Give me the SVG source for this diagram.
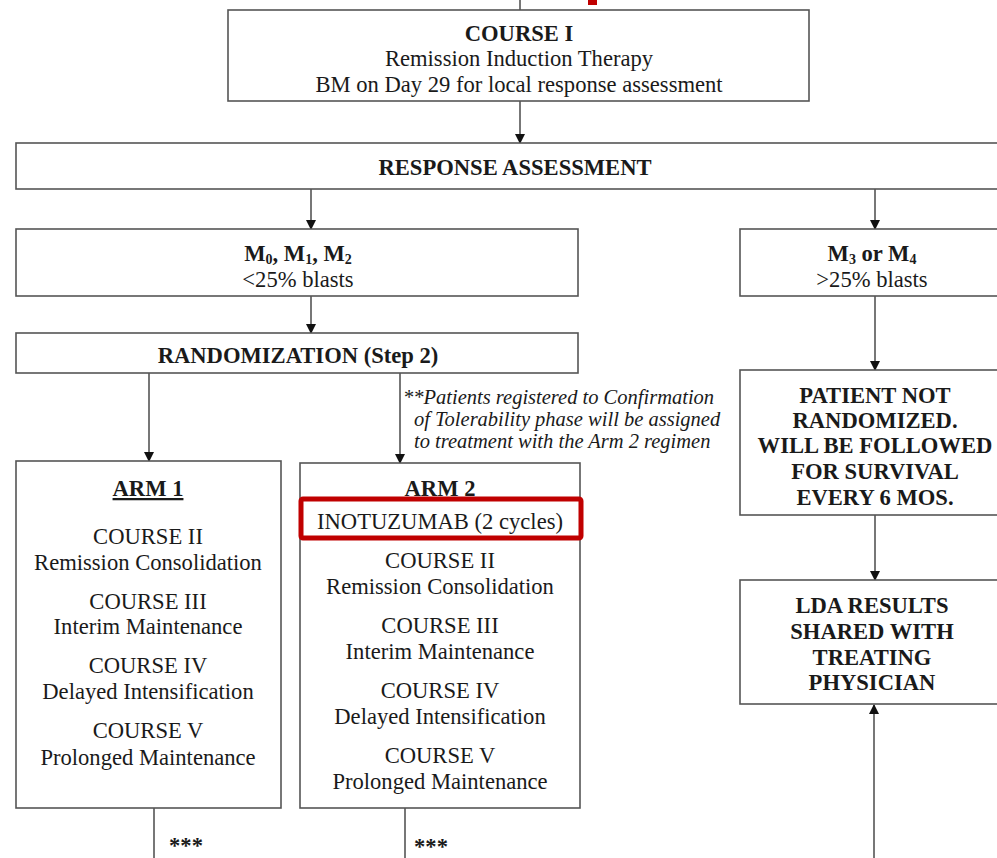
<svg xmlns="http://www.w3.org/2000/svg" width="997" height="858" viewBox="0 0 997 858">
<defs>
<marker id="ah" markerWidth="10" markerHeight="10" refX="9" refY="5" orient="auto" markerUnits="userSpaceOnUse" viewBox="0 0 10 10">
<path d="M0,0 L10,5 L0,10 z" fill="#111"/>
</marker>
<style>
.box{fill:#fff;stroke:#555;stroke-width:1.6}
.ln{stroke:#555;stroke-width:1.6;fill:none}
.t{font-family:"Liberation Serif","Times New Roman",serif;font-size:22.6px;fill:#1a1a1a;text-anchor:middle}
.b{font-weight:bold}
.note{font-family:"Liberation Serif","Times New Roman",serif;font-size:20.5px;font-style:italic;fill:#1a1a1a}
.sub{font-size:14px}
</style>
</defs>
<rect width="997" height="858" fill="#fff"/>
<rect x="588" y="0" width="9" height="5" fill="#c00000"/>
<g id="connectors">
<line class="ln" x1="520" y1="0" x2="520" y2="10"/>
<line class="ln" x1="520" y1="101" x2="520" y2="143" marker-end="url(#ah)"/>
<line class="ln" x1="311" y1="189" x2="311" y2="229" marker-end="url(#ah)"/>
<line class="ln" x1="875" y1="189" x2="875" y2="229" marker-end="url(#ah)"/>
<line class="ln" x1="311" y1="296" x2="311" y2="333" marker-end="url(#ah)"/>
<line class="ln" x1="149" y1="373" x2="149" y2="461" marker-end="url(#ah)"/>
<line class="ln" x1="400" y1="373" x2="400" y2="463" marker-end="url(#ah)"/>
<line class="ln" x1="875" y1="296" x2="875" y2="370" marker-end="url(#ah)"/>
<line class="ln" x1="875" y1="515" x2="875" y2="580" marker-end="url(#ah)"/>
<line class="ln" x1="874" y1="858" x2="874" y2="705" marker-end="url(#ah)"/>
<line class="ln" x1="154" y1="808" x2="154" y2="858"/>
<line class="ln" x1="405" y1="808" x2="405" y2="858"/>
</g>
<g id="course1">
<rect class="box" x="228" y="10" width="581" height="91"/>
<text class="t b" x="519" y="41" font-size="23">COURSE I</text>
<text class="t" x="519" y="66">Remission Induction Therapy</text>
<text class="t" x="519" y="92">BM on Day 29 for local response assessment</text>
</g>
<g id="response">
<rect class="box" x="16" y="143" width="990" height="46"/>
<text class="t b" x="515" y="175">RESPONSE ASSESSMENT</text>
</g>
<g id="m012">
<rect class="box" x="16" y="229" width="562" height="67"/>
<text class="t b" x="298" y="261">M<tspan class="sub" dy="3">0</tspan><tspan dy="-3">, M</tspan><tspan class="sub" dy="3">1</tspan><tspan dy="-3">, M</tspan><tspan class="sub" dy="3">2</tspan></text>
<text class="t" x="298" y="287">&lt;25% blasts</text>
</g>
<g id="m34">
<rect class="box" x="740" y="229" width="266" height="67"/>
<text class="t b" x="872" y="261">M<tspan class="sub" dy="3">3</tspan><tspan dy="-3"> or M</tspan><tspan class="sub" dy="3">4</tspan></text>
<text class="t" x="872" y="287">&gt;25% blasts</text>
</g>
<g id="randomization">
<rect class="box" x="16" y="333" width="562" height="40"/>
<text class="t b" x="298" y="363">RANDOMIZATION (Step 2)</text>
</g>
<g id="note">
<text class="note" x="403" y="404">**Patients registered to Confirmation</text>
<text class="note" x="414" y="426">of Tolerability phase will be assigned</text>
<text class="note" x="414" y="448">to treatment with the Arm 2 regimen</text>
</g>
<g id="arm1">
<rect class="box" x="16" y="461" width="265" height="347"/>
<text class="t b" x="148" y="496" text-decoration="underline">ARM 1</text>
<text class="t" x="148" y="544">COURSE II</text>
<text class="t" x="148" y="570">Remission Consolidation</text>
<text class="t" x="148" y="609">COURSE III</text>
<text class="t" x="148" y="634">Interim Maintenance</text>
<text class="t" x="148" y="673">COURSE IV</text>
<text class="t" x="148" y="699">Delayed Intensification</text>
<text class="t" x="148" y="738">COURSE V</text>
<text class="t" x="148" y="765">Prolonged Maintenance</text>
</g>
<g id="arm2">
<rect class="box" x="300" y="463" width="280" height="345"/>
<text class="t b" x="440" y="496" text-decoration="underline">ARM 2</text>
<rect x="301" y="499" width="280" height="39" rx="2" fill="none" stroke="#c00000" stroke-width="5"/>
<text class="t" x="440" y="529">INOTUZUMAB (2 cycles)</text>
<text class="t" x="440" y="568">COURSE II</text>
<text class="t" x="440" y="594">Remission Consolidation</text>
<text class="t" x="440" y="633">COURSE III</text>
<text class="t" x="440" y="659">Interim Maintenance</text>
<text class="t" x="440" y="698">COURSE IV</text>
<text class="t" x="440" y="724">Delayed Intensification</text>
<text class="t" x="440" y="763">COURSE V</text>
<text class="t" x="440" y="789">Prolonged Maintenance</text>
</g>
<g id="stars">
<text class="t b" x="186" y="853" font-size="24">***</text>
<text class="t b" x="431" y="854" font-size="24">***</text>
</g>
<g id="notrandomized">
<rect class="box" x="740" y="370" width="266" height="145"/>
<text class="t b" x="875" y="403">PATIENT NOT</text>
<text class="t b" x="875" y="428">RANDOMIZED.</text>
<text class="t b" x="875" y="453">WILL BE FOLLOWED</text>
<text class="t b" x="875" y="479">FOR SURVIVAL</text>
<text class="t b" x="875" y="505">EVERY 6 MOS.</text>
</g>
<g id="lda">
<rect class="box" x="740" y="580" width="266" height="124"/>
<text class="t b" x="872" y="613">LDA RESULTS</text>
<text class="t b" x="872" y="639">SHARED WITH</text>
<text class="t b" x="872" y="665">TREATING</text>
<text class="t b" x="872" y="690">PHYSICIAN</text>
</g>
</svg>
